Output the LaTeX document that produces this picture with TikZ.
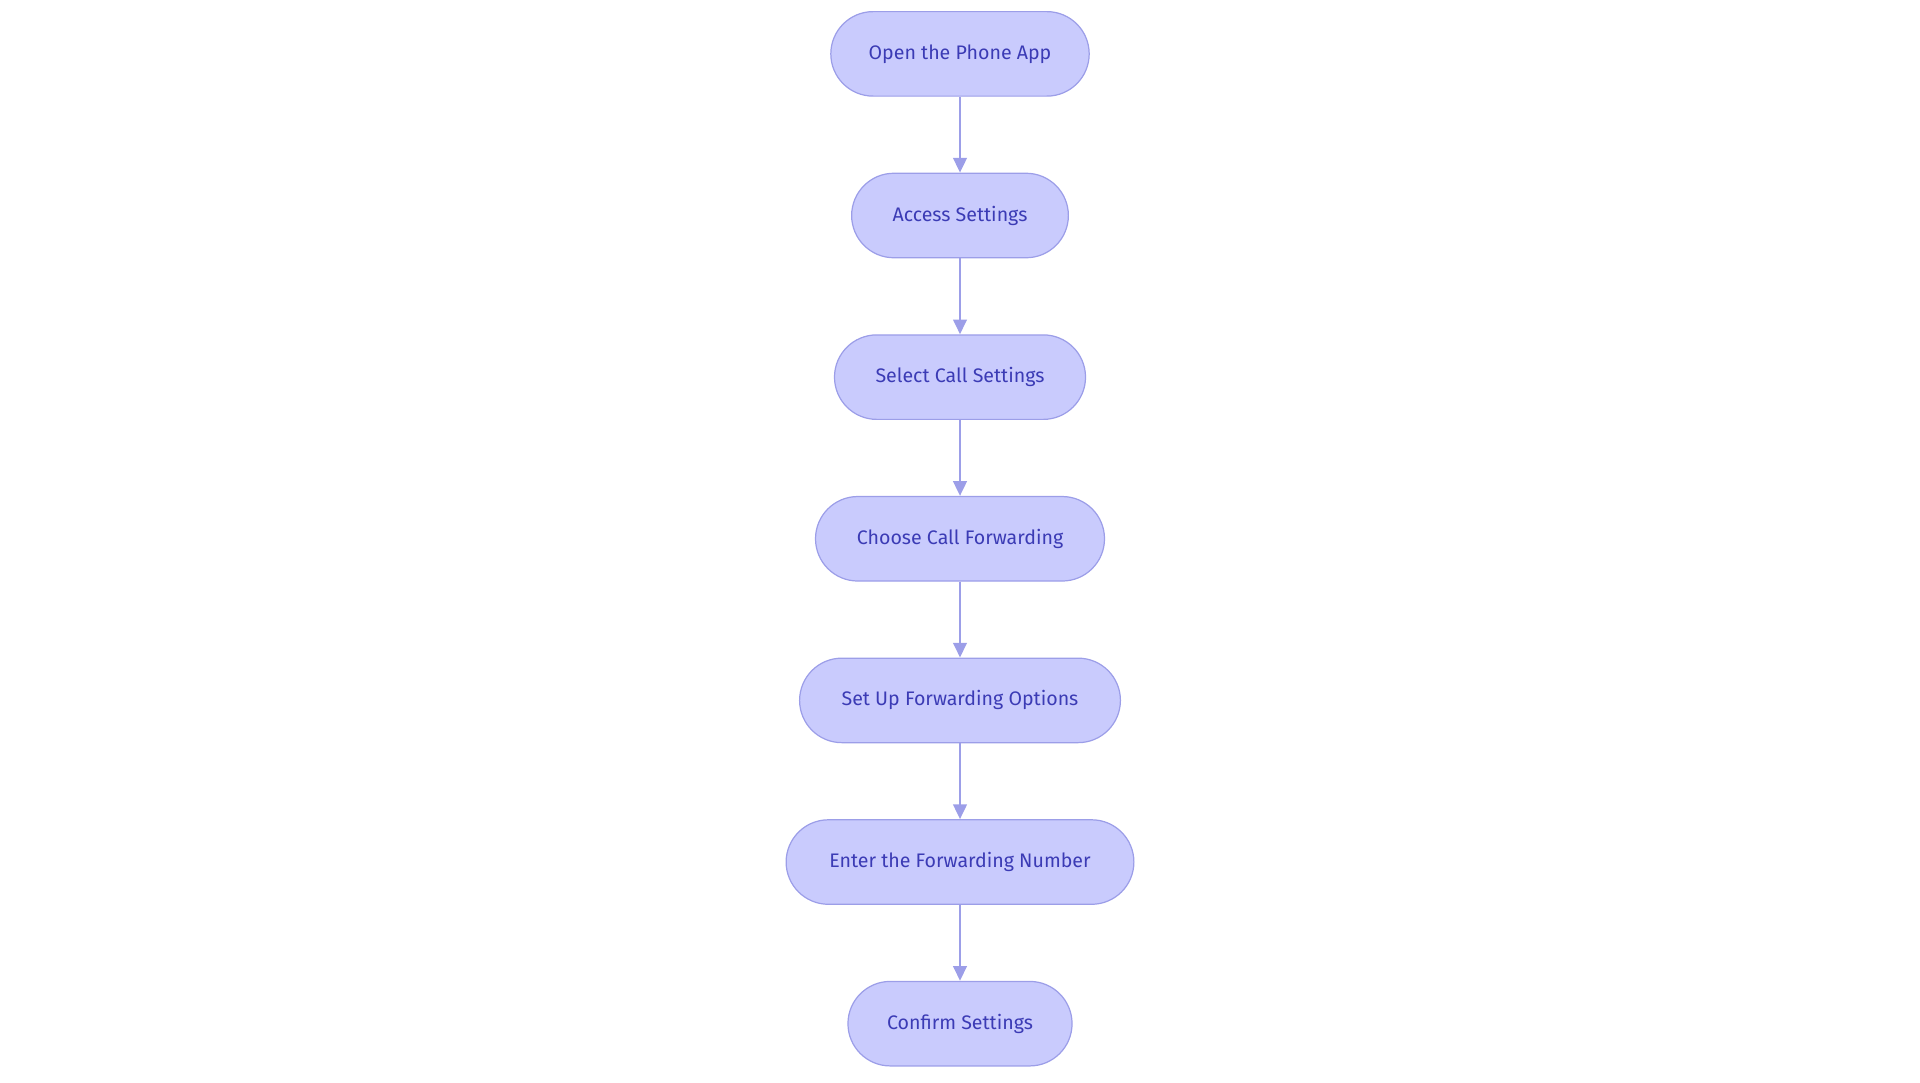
\documentclass[tikz,border=0pt]{standalone}
\usepackage{fontspec}
\setmainfont{Fira Sans}
\usetikzlibrary{shapes.misc,arrows.meta}
\definecolor{nfill}{HTML}{C9CBFD}
\definecolor{ndraw}{HTML}{9C9EE8}
\definecolor{ntext}{HTML}{3B3BB5}
\begin{document}
\begin{tikzpicture}[x=1pt,y=1pt,
  box/.style={rounded rectangle,draw=ndraw,fill=nfill,line width=1pt,minimum height=69pt,text=ntext,font=\fontsize{16}{18}\selectfont,inner xsep=0pt},
  arr/.style={draw=ndraw,line width=2pt,-{Triangle[length=12pt,width=11pt]}}]
\useasboundingbox (0,0) rectangle (1568,884);
\node[box,minimum width=211pt] (a) at (784,840) {Open the Phone App};
\node[box,minimum width=177pt] (b) at (784,708) {Access Settings};
\node[box,minimum width=205pt] (c) at (784,576) {Select Call Settings};
\node[box,minimum width=236pt] (d) at (784,444) {Choose Call Forwarding};
\node[box,minimum width=262pt] (e) at (784,312) {Set Up Forwarding Options};
\node[box,minimum width=284pt] (f) at (784,180) {Enter the Forwarding Number};
\node[box,minimum width=183pt] (g) at (784,48) {Confirm Settings};
\foreach \p/\q in {a/b,b/c,c/d,d/e,e/f,f/g} \draw[arr] (\p) -- (\q);
\end{tikzpicture}
\end{document}
